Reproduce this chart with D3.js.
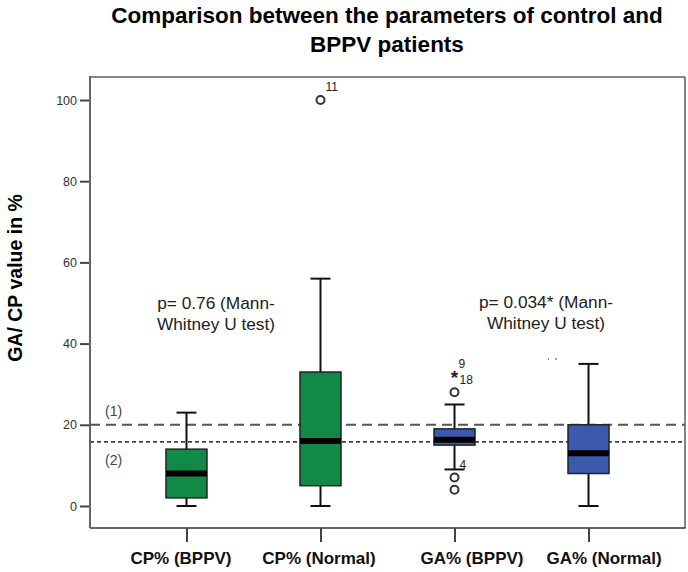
<!DOCTYPE html>
<html>
<head>
<meta charset="utf-8">
<script src="https://cdn.jsdelivr.net/npm/d3@7"></script>
<style>
  html, body { margin: 0; padding: 0; background: #fff; }
  svg { display: block; font-family: "Liberation Sans", Arial, sans-serif; }
</style>
</head>
<body>
<svg id="chart" width="688" height="572"></svg>
<script>
// ---- data ----
const categories = ["CP% (BPPV)", "CP% (Normal)", "GA% (BPPV)", "GA% (Normal)"];
const whiskerLow  = [0, 0, 9, 0];
const q1          = [2, 5, 15, 8];
const median      = [8, 16, 16.3, 13];
const q3          = [14, 33, 19, 20];
const whiskerHigh = [23, 56, 25, 35];
const groupColor  = ["green", "green", "blue", "blue"];
// outliers: category index, value, label
const outlierCat   = [1, 2, 2, 2];
const outlierValue = [100, 28, 7, 4];
const outlierLabel = ["11", "", "4", ""];
// extreme values (stars)
const extremeCat    = [2];
const extremeValue  = [32];
const extremeLabels = [["9", "18"]];
const yTicks = [0, 20, 40, 60, 80, 100];
const refLine1 = 20;     // (1)
const refLine2 = 15.8;   // (2)
const titleLines = ["Comparison between the parameters of control and", "BPPV patients"];
const yTitle = "GA/ CP value in %";
const pTextLeft  = ["p= 0.76 (Mann-", "Whitney U test)"];
const pTextRight = ["p= 0.034* (Mann-", "Whitney U test)"];

// ---- layout ----
const svg = d3.select("#chart");
const frame = {left: 90, right: 685, top: 77, bottom: 528};
const colors = {green: "#118a47", blue: "#3b5aad"};

const x = d3.scalePoint().domain(categories).range([frame.left, frame.right]).padding(0.72);
const y = d3.scaleLinear().domain([0, 100]).range([506, 100]);

// title
svg.append("g").selectAll("text").data(titleLines).join("text")
  .attr("x", 387).attr("y", (d, i) => 23 + i * 29)
  .attr("text-anchor", "middle").attr("font-weight", "bold").attr("font-size", 22.5)
  .attr("fill", "#000").text(d => d);

// y axis title
svg.append("text")
  .attr("transform", "translate(22,278) rotate(-90)")
  .attr("text-anchor", "middle").attr("font-weight", "bold").attr("font-size", 19.5)
  .attr("fill", "#000").text(yTitle);

// frame
svg.append("line").attr("x1", frame.left).attr("x2", frame.right).attr("y1", frame.top).attr("y2", frame.top)
  .attr("stroke", "#888").attr("stroke-width", 2);
svg.append("line").attr("x1", frame.right).attr("x2", frame.right).attr("y1", frame.top).attr("y2", frame.bottom)
  .attr("stroke", "#333").attr("stroke-width", 1.2);
svg.append("line").attr("x1", frame.left).attr("x2", frame.right + 0.6).attr("y1", frame.bottom).attr("y2", frame.bottom)
  .attr("stroke", "#333").attr("stroke-width", 1.5);
svg.append("line").attr("x1", frame.left).attr("x2", frame.left).attr("y1", frame.top - 1).attr("y2", frame.bottom)
  .attr("stroke", "#666").attr("stroke-width", 2);

// y axis
const yAxis = d3.axisLeft(y).tickValues(yTicks).tickSize(9).tickPadding(3);
const gy = svg.append("g").attr("transform", `translate(${frame.left - 1},0)`).call(yAxis);
gy.select(".domain").remove();
gy.selectAll(".tick line").attr("stroke", "#444").attr("stroke-width", 2);
gy.selectAll(".tick text").attr("font-size", 12.5).attr("fill", "#333")
  .attr("font-family", "'Liberation Sans', Arial, sans-serif");

// x axis
const labelShift = [-6, -2, 17, 15];
const xAxis = d3.axisBottom(x).tickSize(14).tickPadding(10);
const gx = svg.append("g").attr("transform", `translate(0,${frame.bottom})`).call(xAxis);
gx.select(".domain").remove();
gx.selectAll(".tick line").attr("stroke", "#444").attr("stroke-width", 2);
gx.selectAll(".tick text").attr("font-size", 17).attr("font-weight", "bold").attr("fill", "#111")
  .attr("font-family", "'Liberation Sans', Arial, sans-serif")
  .attr("dx", (d, i) => labelShift[i]);

// reference lines
svg.append("line").attr("x1", frame.left).attr("x2", frame.right).attr("y1", y(refLine1)).attr("y2", y(refLine1))
  .attr("stroke", "#555").attr("stroke-width", 2).attr("stroke-dasharray", "10,6");
svg.append("line").attr("x1", frame.left).attr("x2", frame.right).attr("y1", y(refLine2)).attr("y2", y(refLine2))
  .attr("stroke", "#444").attr("stroke-width", 1.6).attr("stroke-dasharray", "4,3");
svg.append("text").attr("x", 105).attr("y", y(refLine1) - 9).attr("font-size", 14).attr("fill", "#444").text("(1)");
svg.append("text").attr("x", 105).attr("y", y(refLine2) + 23).attr("font-size", 14).attr("fill", "#444").text("(2)");

// boxes
const boxW = 41, capW = 20;
const idx = d3.range(categories.length);
const gBox = svg.append("g");
idx.forEach(i => {
  const cx = x(categories[i]);
  gBox.append("line").attr("x1", cx).attr("x2", cx).attr("y1", y(whiskerHigh[i])).attr("y2", y(q3[i]))
    .attr("stroke", "#111").attr("stroke-width", 2);
  gBox.append("line").attr("x1", cx).attr("x2", cx).attr("y1", y(q1[i])).attr("y2", y(whiskerLow[i]))
    .attr("stroke", "#111").attr("stroke-width", 2);
  gBox.append("line").attr("x1", cx - capW / 2).attr("x2", cx + capW / 2).attr("y1", y(whiskerHigh[i])).attr("y2", y(whiskerHigh[i]))
    .attr("stroke", "#111").attr("stroke-width", 2);
  gBox.append("line").attr("x1", cx - capW / 2).attr("x2", cx + capW / 2).attr("y1", y(whiskerLow[i])).attr("y2", y(whiskerLow[i]))
    .attr("stroke", "#111").attr("stroke-width", 2);
  gBox.append("rect").attr("x", cx - boxW / 2).attr("width", boxW)
    .attr("y", y(q3[i])).attr("height", y(q1[i]) - y(q3[i]))
    .attr("fill", colors[groupColor[i]]).attr("stroke", "#222").attr("stroke-width", 1.5);
  gBox.append("line").attr("x1", cx - boxW / 2).attr("x2", cx + boxW / 2).attr("y1", y(median[i])).attr("y2", y(median[i]))
    .attr("stroke", "#000").attr("stroke-width", 6);
});

// outliers
outlierValue.forEach((v, k) => {
  const cx = x(categories[outlierCat[k]]);
  gBox.append("circle").attr("cx", cx).attr("cy", y(v)).attr("r", 4)
    .attr("fill", "#fff").attr("stroke", "#333").attr("stroke-width", 2);
  if (outlierLabel[k]) {
    gBox.append("text").attr("x", cx + 5).attr("y", y(v) - 9)
      .attr("font-size", 12).attr("fill", "#222").text(outlierLabel[k]);
  }
});
extremeValue.forEach((v, k) => {
  const cx = x(categories[extremeCat[k]]);
  gBox.append("text").attr("x", cx).attr("y", y(v) + 8).attr("text-anchor", "middle")
    .attr("font-size", 19).attr("font-weight", "bold").attr("fill", "#222").text("*");
  const labs = extremeLabels[k];
  gBox.append("text").attr("x", cx + 4).attr("y", y(v) - 8).attr("font-size", 12).attr("fill", "#222").text(labs[0]);
  gBox.append("text").attr("x", cx + 5).attr("y", y(v) + 8).attr("font-size", 12).attr("fill", "#222").text(labs[1]);
});

// small specks
svg.append("rect").attr("x", 548).attr("y", 358).attr("width", 1).attr("height", 2).attr("fill", "#999");
svg.append("rect").attr("x", 555).attr("y", 358).attr("width", 2).attr("height", 2).attr("fill", "#999");

// p-value annotations
svg.append("g").selectAll("text").data(pTextLeft).join("text")
  .attr("x", 216).attr("y", (d, i) => 309 + i * 21).attr("text-anchor", "middle")
  .attr("font-size", 17.3).attr("fill", "#222").text(d => d);
svg.append("g").selectAll("text").data(pTextRight).join("text")
  .attr("x", 546).attr("y", (d, i) => 308 + i * 21).attr("text-anchor", "middle")
  .attr("font-size", 17.3).attr("fill", "#222").text(d => d);
</script>
</body>
</html>
